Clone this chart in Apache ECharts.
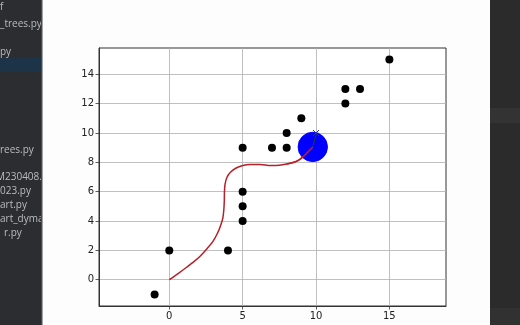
<!DOCTYPE html>
<html><head><meta charset="utf-8">
<script src="https://cdn.jsdelivr.net/npm/echarts@6/dist/echarts.min.js"></script>
<style>html,body{margin:0;padding:0;background:#fdfdfd}#c{width:520px;height:325px}</style>
</head><body><div id="c"></div>
<script>
// obstacles
var obstacleX = [-1, 0, 4, 5, 5, 5, 5, 8, 7, 8, 9, 12, 12, 15, 13];
var obstacleY = [-1, 2, 2, 4, 5, 6, 9, 9, 9, 10, 11, 13, 12, 15, 13];
// robot trajectory
var trajX = [0, 0.6, 1.18, 1.7, 2.1, 2.6, 3.0, 3.3, 3.5, 3.65, 3.72, 3.75, 3.76, 3.8, 3.92, 4.15, 4.5, 4.95, 5.5, 6.2, 6.9, 7.5, 8.0, 8.5, 8.9, 9.2, 9.5, 9.78];
var trajY = [0, 0.42, 0.85, 1.25, 1.6, 2.15, 2.65, 3.2, 3.7, 4.2, 4.8, 5.4, 6.0, 6.5, 6.95, 7.3, 7.58, 7.76, 7.85, 7.85, 7.78, 7.8, 7.88, 8.0, 8.2, 8.45, 8.75, 9.05];
// robot state
var robotX = [9.78];
var robotY = [9.05];
var robotRadius = [1.0];
var headingX = [9.78, 10.05];
var headingY = [9.05, 10.05];
var goalX = [10];
var goalY = [10];
// tick labels
var xTicks = [0, 5, 10, 15];
var yTicks = [0, 2, 4, 6, 8, 10, 12, 14];
var sideFiles = [["f", 7], ["_trees.py", 24], ["py", 52], ["rees.py", 150], ["M230408.py", 177], ["023.py", 191], ["art.py", 205], ["art_dymat", 219], ["r.py", 233]];

function zip(a, b) { return a.map(function (v, i) { return [v, b[i]]; }); }

var chart = echarts.init(document.getElementById('c'), null, {renderer: 'canvas'});
var axisCommon = {
  axisLine: {show: true, onZero: false, lineStyle: {color: '#333', width: 1}},
  axisTick: {show: true, length: 3.5, inside: false, lineStyle: {color: '#333', width: 0.8}},
  axisLabel: {color: '#222', fontSize: 10, fontFamily: 'DejaVu Sans', margin: 5},
  splitLine: {show: true, lineStyle: {color: '#b0b0b0', width: 0.8}}
};
var graphics = [
  {type: 'rect', shape: {x: 0, y: 0, width: 42, height: 325}, style: {fill: '#2b2d30'}, z: 0},
  {type: 'rect', shape: {x: 0, y: 58, width: 42, height: 14}, style: {fill: '#1d3347'}, z: 1},
  {type: 'rect', shape: {x: 490, y: 0, width: 30, height: 325}, style: {fill: '#2b2b2b'}, z: 0},
  {type: 'rect', shape: {x: 490, y: 108, width: 30, height: 15}, style: {fill: '#333333'}, z: 1},
  {type: 'rect', shape: {x: 490, y: 308, width: 30, height: 17}, style: {fill: '#313131'}, z: 1}
];
sideFiles.forEach(function (f) {
  graphics.push({type: 'text', x: f[0] === 'r.py' ? 4 : (f[0] === 'M230408.py' ? -4 : 0), y: f[1], z: 2,
    style: {text: f[0], fill: '#babdc0', font: '10px "Open Sans"', textVerticalAlign: 'middle'}});
});
graphics.push({type: 'rect', shape: {x: 42, y: 0, width: 33, height: 325}, style: {fill: '#fdfdfd'}, z: 3});
graphics.push({type: 'rect', shape: {x: 41, y: 0, width: 1.5, height: 325}, style: {fill: '#45484c'}, z: 4});
chart.setOption({
  animation: false,
  backgroundColor: '#fdfdfd',
  graphic: graphics,
  grid: {left: 99, top: 48, width: 347, height: 258, show: true, borderColor: '#333', borderWidth: 1, backgroundColor: '#ffffff'},
  xAxis: Object.assign({}, axisCommon, {type: 'value', min: -4.79, max: 18.86,
    axisTick: Object.assign({}, axisCommon.axisTick, {customValues: xTicks}),
    axisLabel: Object.assign({}, axisCommon.axisLabel, {customValues: xTicks})}),
  yAxis: Object.assign({}, axisCommon, {type: 'value', min: -1.79, max: 15.79,
    axisTick: Object.assign({}, axisCommon.axisTick, {customValues: yTicks}),
    axisLabel: Object.assign({}, axisCommon.axisLabel, {customValues: yTicks})}),
  series: [
    {type: 'scatter', data: zip(obstacleX, obstacleY), symbol: 'circle', symbolSize: 8, itemStyle: {color: '#000000', opacity: 1}, z: 3},
    {type: 'line', data: zip(trajX, trajY), showSymbol: false, smooth: 0.3, lineStyle: {color: '#b52029', width: 1.5}, z: 4},
    {type: 'custom', renderItem: function (params, api) {
        var c = api.coord([api.value(0), api.value(1)]);
        var s = api.size([api.value(2), api.value(2)]);
        return {type: 'circle', shape: {cx: c[0], cy: c[1], r: s[0]}, style: {fill: '#0000ff', stroke: '#0000ff'}};
      }, data: robotX.map(function (v, i) { return [v, robotY[i], robotRadius[i]]; }), z: 5},
    {type: 'line', data: zip(trajX.slice(-6), trajY.slice(-6)), showSymbol: false, smooth: 0.3, lineStyle: {color: '#c0202a', width: 1.5}, z: 6},
    {type: 'line', data: zip(headingX, headingY), showSymbol: false, lineStyle: {color: '#1a3a3a', width: 1.2}, z: 7},
    {type: 'scatter', data: zip(goalX, goalY), symbol: 'path://M0,0L10,10M10,0L0,10', symbolSize: 6, itemStyle: {color: 'none', borderColor: '#2233aa', borderWidth: 1, opacity: 1}, z: 8}
  ]
});
</script></body></html>
